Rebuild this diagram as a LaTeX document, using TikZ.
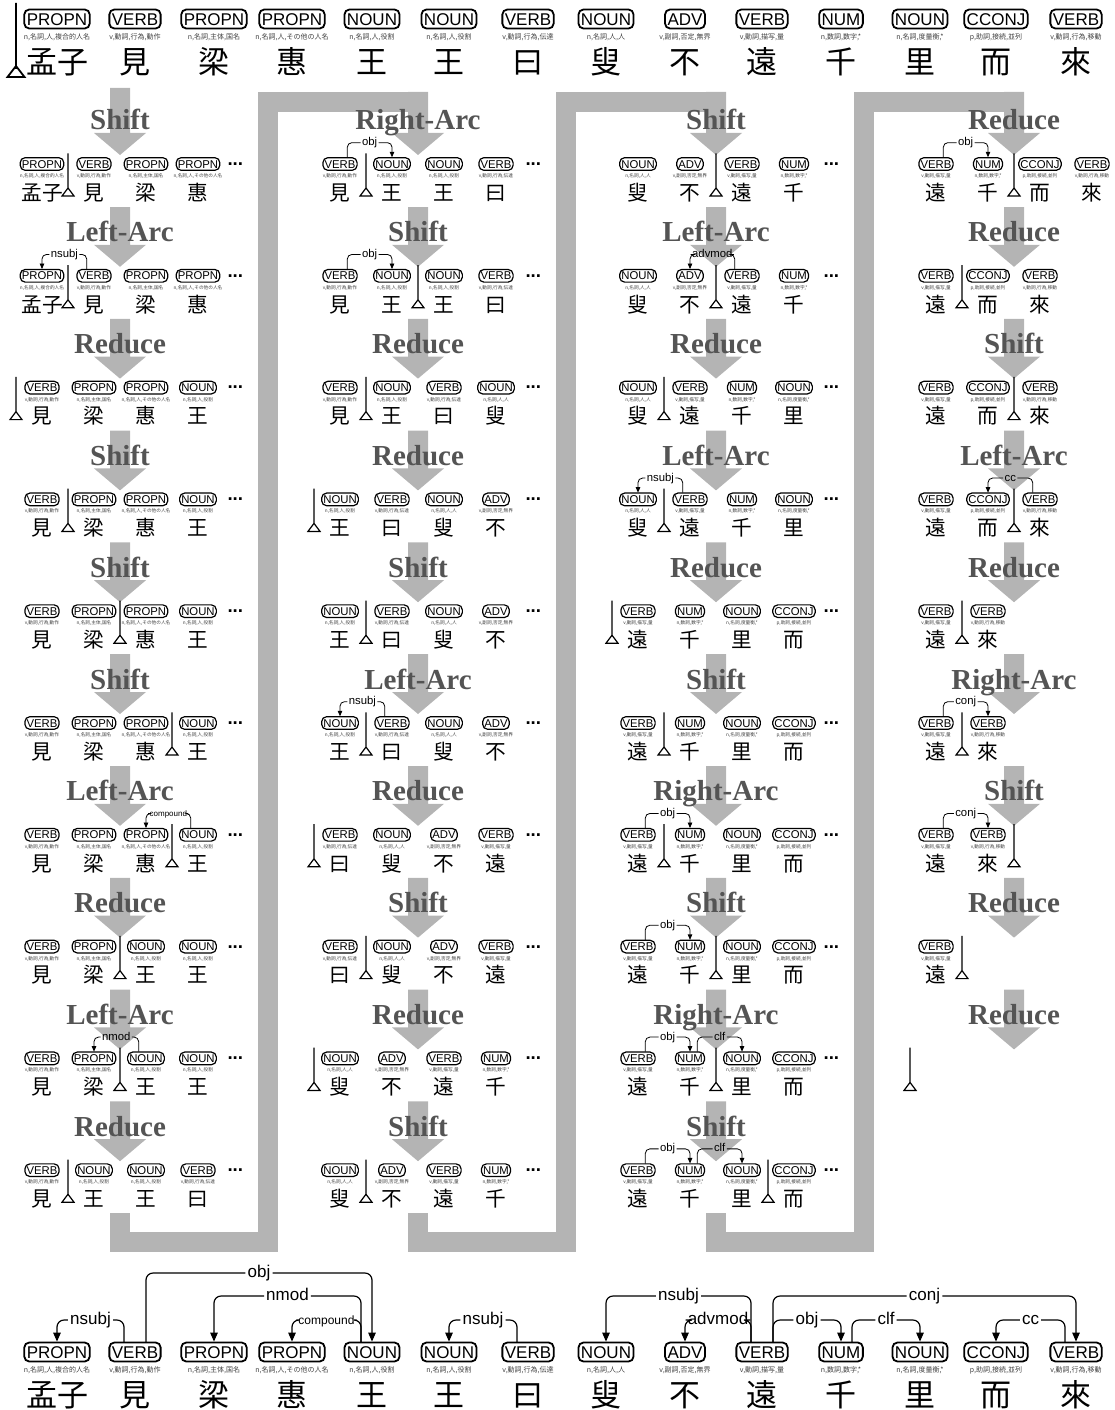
\documentclass[tikz,border=0pt]{standalone}
\usepackage{fontspec}
\usetikzlibrary{arrows.meta}
\newfontfamily\possf{Liberation Sans}
\newfontfamily\cjk{Noto Sans CJK JP}
\newfontfamily\transf{Liberation Serif}
\definecolor{flowgray}{RGB}{180,180,180}
\definecolor{labgray}{RGB}{84,84,84}

% one token: tag box, features, word
\newcommand{\tok}[5]{%
	\node[tagbox] (#1) at (#2,0) {#3};
	\node[feattext] (#1f) at (#2,18) {#4};
	\node[wordtext] (#1w) at (#2,43) {#5};
	\coordinate (#1l) at (#2-11,-10);
	\coordinate (#1r) at (#2+11,-10);}
\newcommand{\wMeng}[2]{\tok{#1}{#2}{PROPN}{n,名詞,人,複合的人名}{孟子}}
\newcommand{\wJian}[2]{\tok{#1}{#2}{VERB}{v,動詞,行為,動作}{見}}
\newcommand{\wLiang}[2]{\tok{#1}{#2}{PROPN}{n,名詞,主体,国名}{梁}}
\newcommand{\wHui}[2]{\tok{#1}{#2}{PROPN}{n,名詞,人,その他の人名}{惠}}
\newcommand{\wWang}[2]{\tok{#1}{#2}{NOUN}{n,名詞,人,役割}{王}}
\newcommand{\wYue}[2]{\tok{#1}{#2}{VERB}{v,動詞,行為,伝達}{曰}}
\newcommand{\wSou}[2]{\tok{#1}{#2}{NOUN}{n,名詞,人,人}{叟}}
\newcommand{\wBu}[2]{\tok{#1}{#2}{ADV}{v,副詞,否定,無界}{不}}
\newcommand{\wYuan}[2]{\tok{#1}{#2}{VERB}{v,動詞,描写,量}{遠}}
\newcommand{\wQian}[2]{\tok{#1}{#2}{NUM}{n,数詞,数字,*}{千}}
\newcommand{\wLi}[2]{\tok{#1}{#2}{NOUN}{n,名詞,度量衡,*}{里}}
\newcommand{\wEr}[2]{\tok{#1}{#2}{CCONJ}{p,助詞,接続,並列}{而}}
\newcommand{\wLai}[2]{\tok{#1}{#2}{VERB}{v,動詞,行為,移動}{來}}

% arcs: head, dependent, height, label
\newcommand{\larc}[4]{%
	\path (#1l) -- ++(0,-#3) -| node[arclabel,pos=.25] (#1#2) {#4} (#2.north);
	\draw[deparc] (#1l) |- (#1#2.east);
	\draw[deparc,arctip] (#1#2.west) -| (#2.north);}
\newcommand{\rarc}[4]{%
	\path (#1r) -- ++(0,-#3) -| node[arclabel,pos=.25] (#1#2) {#4} (#2.north);
	\draw[deparc] (#1r) |- (#1#2.west);
	\draw[deparc,arctip] (#1#2.east) -| (#2.north);}

% stack/buffer bar
\newcommand{\stackbar}[1]{\draw[sepline] (#1,-16) -- (#1,38) (#1,36) -- (#1-9,48) -- (#1+9,48) -- cycle;}
\newcommand{\tailmark}[1]{\node[moredots] (#1) at (290,0) {...};}

% big gray arrow: x, top, tip
\newcommand{\flowarrow}[3]{\fill[flowgray] (#1-10,#2) -- (#1-10,#3-22) -- (#1-26,#3-22) -- (#1,#3) -- (#1+26,#3-22) -- (#1+10,#3-22) -- (#1+10,#2) -- cycle;}

% id, column x, row y, arrow top, transition, state
\newcommand{\trstep}[6]{%
	\flowarrow{#2+78}{#4}{#3-9}
	\node[translabel] (#1) at (#2+78,#3-34) {#5};
	\begin{scope}[shift={(#2,#3)},scale=2/3,transform shape,stepsize]
		#6
	\end{scope}}

\begin{document}
\begin{tikzpicture}[x=1pt,y=-1pt,
	tagbox/.style={draw,rounded corners=5pt,line width=1.8pt,font=\possf\fontsize{17}{17}\selectfont,text height=12.2pt,text depth=0pt,inner xsep=2.5pt,inner ysep=3.4pt},
	feattext/.style={font=\cjk\fontsize{7}{7}\selectfont,text=black!75,inner sep=0pt},
	wordtext/.style={font=\cjk\fontsize{31}{31}\selectfont,text height=25.5pt,text depth=2.5pt,inner sep=0pt},
	moredots/.style={font=\possf\bfseries\fontsize{28}{28}\selectfont,inner sep=0pt},
	arclabel/.style={font=\possf\fontsize{17}{17}\selectfont,text height=8.8pt,text depth=0pt,inner xsep=2pt,inner ysep=0pt},
	deparc/.style={line width=1.2pt,rounded corners=7pt},
	arctip/.style={-{Triangle[length=9pt,width=7.5pt]}},
	sepline/.style={line width=1.8pt,line join=miter},
	flowband/.style={flowgray,line width=20pt,line join=miter},
	translabel/.style={anchor=base,font=\transf\bfseries\fontsize{29}{29}\selectfont,text=labgray,inner sep=0pt},
	stepsize/.style={tagbox/.append style={line width=1.2pt},deparc/.append style={line width=0.8pt,rounded corners=4.5pt},arctip/.append style={-{Triangle[length=5.5pt,width=4.5pt]}},sepline/.append style={line width=1.2pt}}]
	\useasboundingbox (0,0) rectangle (1115,1410);

	% sentence
	\begin{scope}[shift={(0,19)}]
		\wMeng{s1}{57} \wJian{s2}{135} \wLiang{s3}{214} \wHui{s4}{292} \wWang{s5}{372} \wWang{s6}{449} \wYue{s7}{528}
		\wSou{s8}{606} \wBu{s9}{685} \wYuan{s10}{762} \wQian{s11}{841} \wLi{s12}{920} \wEr{s13}{996} \wLai{s14}{1076}
		\draw[sepline] (16,-16) -- (16,50) (16,47) -- (7.5,58) -- (24.5,58) -- cycle;
	\end{scope}

	% bands between columns
	\draw[flowband] (120,1213.2) -- (120,1242) -- (268,1242) -- (268,102) -- (418,102);
	\draw[flowband] (418,1213.2) -- (418,1242) -- (566,1242) -- (566,102) -- (716,102);
	\draw[flowband] (716,1213.2) -- (716,1242) -- (864,1242) -- (864,102) -- (1014,102);

	% column 1
	\trstep{a1}{42}{164}{88}{Shift}{\wMeng{a1t0}{0}\wJian{a1t1}{78}\wLiang{a1t2}{156}\wHui{a1t3}{234}\tailmark{a1m}\stackbar{39}}
	\trstep{a2}{42}{275.8}{207}{Left-Arc}{\wMeng{a2t0}{0}\wJian{a2t1}{78}\wLiang{a2t2}{156}\wHui{a2t3}{234}\tailmark{a2m}\stackbar{39}
		\larc{a2t1}{a2t0}{22}{nsubj}}
	\trstep{a3}{42}{387.6}{318.8}{Reduce}{\wJian{a3t0}{0}\wLiang{a3t1}{78}\wHui{a3t2}{156}\wWang{a3t3}{234}\tailmark{a3m}\stackbar{-39}}
	\trstep{a4}{42}{499.4}{430.6}{Shift}{\wJian{a4t0}{0}\wLiang{a4t1}{78}\wHui{a4t2}{156}\wWang{a4t3}{234}\tailmark{a4m}\stackbar{39}}
	\trstep{a5}{42}{611.2}{542.4}{Shift}{\wJian{a5t0}{0}\wLiang{a5t1}{78}\wHui{a5t2}{156}\wWang{a5t3}{234}\tailmark{a5m}\stackbar{117}}
	\trstep{a6}{42}{723}{654.2}{Shift}{\wJian{a6t0}{0}\wLiang{a6t1}{78}\wHui{a6t2}{156}\wWang{a6t3}{234}\tailmark{a6m}\stackbar{195}}
	\trstep{a7}{42}{834.8}{766}{Left-Arc}{\wJian{a7t0}{0}\wLiang{a7t1}{78}\wHui{a7t2}{156}\wWang{a7t3}{234}\tailmark{a7m}\stackbar{195}
		\larc{a7t3}{a7t2}{22}{\fontsize{12}{12}\selectfont compound}}
	\trstep{a8}{42}{946.6}{877.8}{Reduce}{\wJian{a8t0}{0}\wLiang{a8t1}{78}\wWang{a8t2}{156}\wWang{a8t3}{234}\tailmark{a8m}\stackbar{117}}
	\trstep{a9}{42}{1058.4}{989.6}{Left-Arc}{\wJian{a9t0}{0}\wLiang{a9t1}{78}\wWang{a9t2}{156}\wWang{a9t3}{234}\tailmark{a9m}\stackbar{117}
		\larc{a9t2}{a9t1}{22}{nmod}}
	\trstep{a10}{42}{1170.2}{1101.4}{Reduce}{\wJian{a10t0}{0}\wWang{a10t1}{78}\wWang{a10t2}{156}\wYue{a10t3}{234}\tailmark{a10m}\stackbar{39}}

	% column 2
	\trstep{b1}{340}{164}{92}{Right-Arc}{\wJian{b1t0}{0}\wWang{b1t1}{78}\wWang{b1t2}{156}\wYue{b1t3}{234}\tailmark{b1m}\stackbar{39}
		\rarc{b1t0}{b1t1}{22}{obj}}
	\trstep{b2}{340}{275.8}{207}{Shift}{\wJian{b2t0}{0}\wWang{b2t1}{78}\wWang{b2t2}{156}\wYue{b2t3}{234}\tailmark{b2m}\stackbar{117}
		\rarc{b2t0}{b2t1}{22}{obj}}
	\trstep{b3}{340}{387.6}{318.8}{Reduce}{\wJian{b3t0}{0}\wWang{b3t1}{78}\wYue{b3t2}{156}\wSou{b3t3}{234}\tailmark{b3m}\stackbar{39}}
	\trstep{b4}{340}{499.4}{430.6}{Reduce}{\wWang{b4t0}{0}\wYue{b4t1}{78}\wSou{b4t2}{156}\wBu{b4t3}{234}\tailmark{b4m}\stackbar{-39}}
	\trstep{b5}{340}{611.2}{542.4}{Shift}{\wWang{b5t0}{0}\wYue{b5t1}{78}\wSou{b5t2}{156}\wBu{b5t3}{234}\tailmark{b5m}\stackbar{39}}
	\trstep{b6}{340}{723}{654.2}{Left-Arc}{\wWang{b6t0}{0}\wYue{b6t1}{78}\wSou{b6t2}{156}\wBu{b6t3}{234}\tailmark{b6m}\stackbar{39}
		\larc{b6t1}{b6t0}{22}{nsubj}}
	\trstep{b7}{340}{834.8}{766}{Reduce}{\wYue{b7t0}{0}\wSou{b7t1}{78}\wBu{b7t2}{156}\wYuan{b7t3}{234}\tailmark{b7m}\stackbar{-39}}
	\trstep{b8}{340}{946.6}{877.8}{Shift}{\wYue{b8t0}{0}\wSou{b8t1}{78}\wBu{b8t2}{156}\wYuan{b8t3}{234}\tailmark{b8m}\stackbar{39}}
	\trstep{b9}{340}{1058.4}{989.6}{Reduce}{\wSou{b9t0}{0}\wBu{b9t1}{78}\wYuan{b9t2}{156}\wQian{b9t3}{234}\tailmark{b9m}\stackbar{-39}}
	\trstep{b10}{340}{1170.2}{1101.4}{Shift}{\wSou{b10t0}{0}\wBu{b10t1}{78}\wYuan{b10t2}{156}\wQian{b10t3}{234}\tailmark{b10m}\stackbar{39}}

	% column 3
	\trstep{c1}{638}{164}{92}{Shift}{\wSou{c1t0}{0}\wBu{c1t1}{78}\wYuan{c1t2}{156}\wQian{c1t3}{234}\tailmark{c1m}\stackbar{117}}
	\trstep{c2}{638}{275.8}{207}{Left-Arc}{\wSou{c2t0}{0}\wBu{c2t1}{78}\wYuan{c2t2}{156}\wQian{c2t3}{234}\tailmark{c2m}\stackbar{117}
		\larc{c2t2}{c2t1}{22}{advmod}}
	\trstep{c3}{638}{387.6}{318.8}{Reduce}{\wSou{c3t0}{0}\wYuan{c3t1}{78}\wQian{c3t2}{156}\wLi{c3t3}{234}\tailmark{c3m}\stackbar{39}}
	\trstep{c4}{638}{499.4}{430.6}{Left-Arc}{\wSou{c4t0}{0}\wYuan{c4t1}{78}\wQian{c4t2}{156}\wLi{c4t3}{234}\tailmark{c4m}\stackbar{39}
		\larc{c4t1}{c4t0}{22}{nsubj}}
	\trstep{c5}{638}{611.2}{542.4}{Reduce}{\wYuan{c5t0}{0}\wQian{c5t1}{78}\wLi{c5t2}{156}\wEr{c5t3}{234}\tailmark{c5m}\stackbar{-39}}
	\trstep{c6}{638}{723}{654.2}{Shift}{\wYuan{c6t0}{0}\wQian{c6t1}{78}\wLi{c6t2}{156}\wEr{c6t3}{234}\tailmark{c6m}\stackbar{39}}
	\trstep{c7}{638}{834.8}{766}{Right-Arc}{\wYuan{c7t0}{0}\wQian{c7t1}{78}\wLi{c7t2}{156}\wEr{c7t3}{234}\tailmark{c7m}\stackbar{39}
		\rarc{c7t0}{c7t1}{22}{obj}}
	\trstep{c8}{638}{946.6}{877.8}{Shift}{\wYuan{c8t0}{0}\wQian{c8t1}{78}\wLi{c8t2}{156}\wEr{c8t3}{234}\tailmark{c8m}\stackbar{117}
		\rarc{c8t0}{c8t1}{22}{obj}}
	\trstep{c9}{638}{1058.4}{989.6}{Right-Arc}{\wYuan{c9t0}{0}\wQian{c9t1}{78}\wLi{c9t2}{156}\wEr{c9t3}{234}\tailmark{c9m}\stackbar{117}
		\rarc{c9t0}{c9t1}{22}{obj}\rarc{c9t1}{c9t2}{22}{clf}}
	\trstep{c10}{638}{1170.2}{1101.4}{Shift}{\wYuan{c10t0}{0}\wQian{c10t1}{78}\wLi{c10t2}{156}\wEr{c10t3}{234}\tailmark{c10m}\stackbar{195}
		\rarc{c10t0}{c10t1}{22}{obj}\rarc{c10t1}{c10t2}{22}{clf}}

	% column 4
	\trstep{d1}{936}{164}{92}{Reduce}{\wYuan{d1t0}{0}\wQian{d1t1}{78}\wEr{d1t2}{156}\wLai{d1t3}{234}\stackbar{117}
		\rarc{d1t0}{d1t1}{22}{obj}}
	\trstep{d2}{936}{275.8}{207}{Reduce}{\wYuan{d2t0}{0}\wEr{d2t1}{78}\wLai{d2t2}{156}\stackbar{39}}
	\trstep{d3}{936}{387.6}{318.8}{Shift}{\wYuan{d3t0}{0}\wEr{d3t1}{78}\wLai{d3t2}{156}\stackbar{117}}
	\trstep{d4}{936}{499.4}{430.6}{Left-Arc}{\wYuan{d4t0}{0}\wEr{d4t1}{78}\wLai{d4t2}{156}\stackbar{117}
		\larc{d4t2}{d4t1}{22}{cc}}
	\trstep{d5}{936}{611.2}{542.4}{Reduce}{\wYuan{d5t0}{0}\wLai{d5t1}{78}\stackbar{39}}
	\trstep{d6}{936}{723}{654.2}{Right-Arc}{\wYuan{d6t0}{0}\wLai{d6t1}{78}\stackbar{39}
		\rarc{d6t0}{d6t1}{22}{conj}}
	\trstep{d7}{936}{834.8}{766}{Shift}{\wYuan{d7t0}{0}\wLai{d7t1}{78}\stackbar{117}
		\rarc{d7t0}{d7t1}{22}{conj}}
	\trstep{d8}{936}{946.6}{877.8}{Reduce}{\wYuan{d8t0}{0}\stackbar{39}}
	\trstep{d9}{936}{1058.4}{989.6}{Reduce}{\stackbar{-39}}

	% final tree
	\begin{scope}[shift={(0,1352)}]
		\wMeng{f1}{57} \wJian{f2}{135} \wLiang{f3}{214} \wHui{f4}{292} \wWang{f5}{372} \wWang{f6}{449} \wYue{f7}{528}
		\wSou{f8}{606} \wBu{f9}{685} \wYuan{f10}{762} \wQian{f11}{841} \wLi{f12}{920} \wEr{f13}{996} \wLai{f14}{1076}
		\larc{f2}{f1}{22}{nsubj}
		\rarc{f2}{f5}{69}{obj}
		\larc{f5}{f3}{46}{nmod}
		\larc{f5}{f4}{22}{\fontsize{12}{12}\selectfont compound}
		\larc{f7}{f6}{22}{nsubj}
		\larc{f10}{f8}{46}{nsubj}
		\larc{f10}{f9}{22}{advmod}
		\rarc{f10}{f11}{22}{obj}
		\rarc{f11}{f12}{22}{clf}
		\rarc{f10}{f14}{46}{conj}
		\larc{f14}{f13}{22}{cc}
	\end{scope}
\end{tikzpicture}
\end{document}
